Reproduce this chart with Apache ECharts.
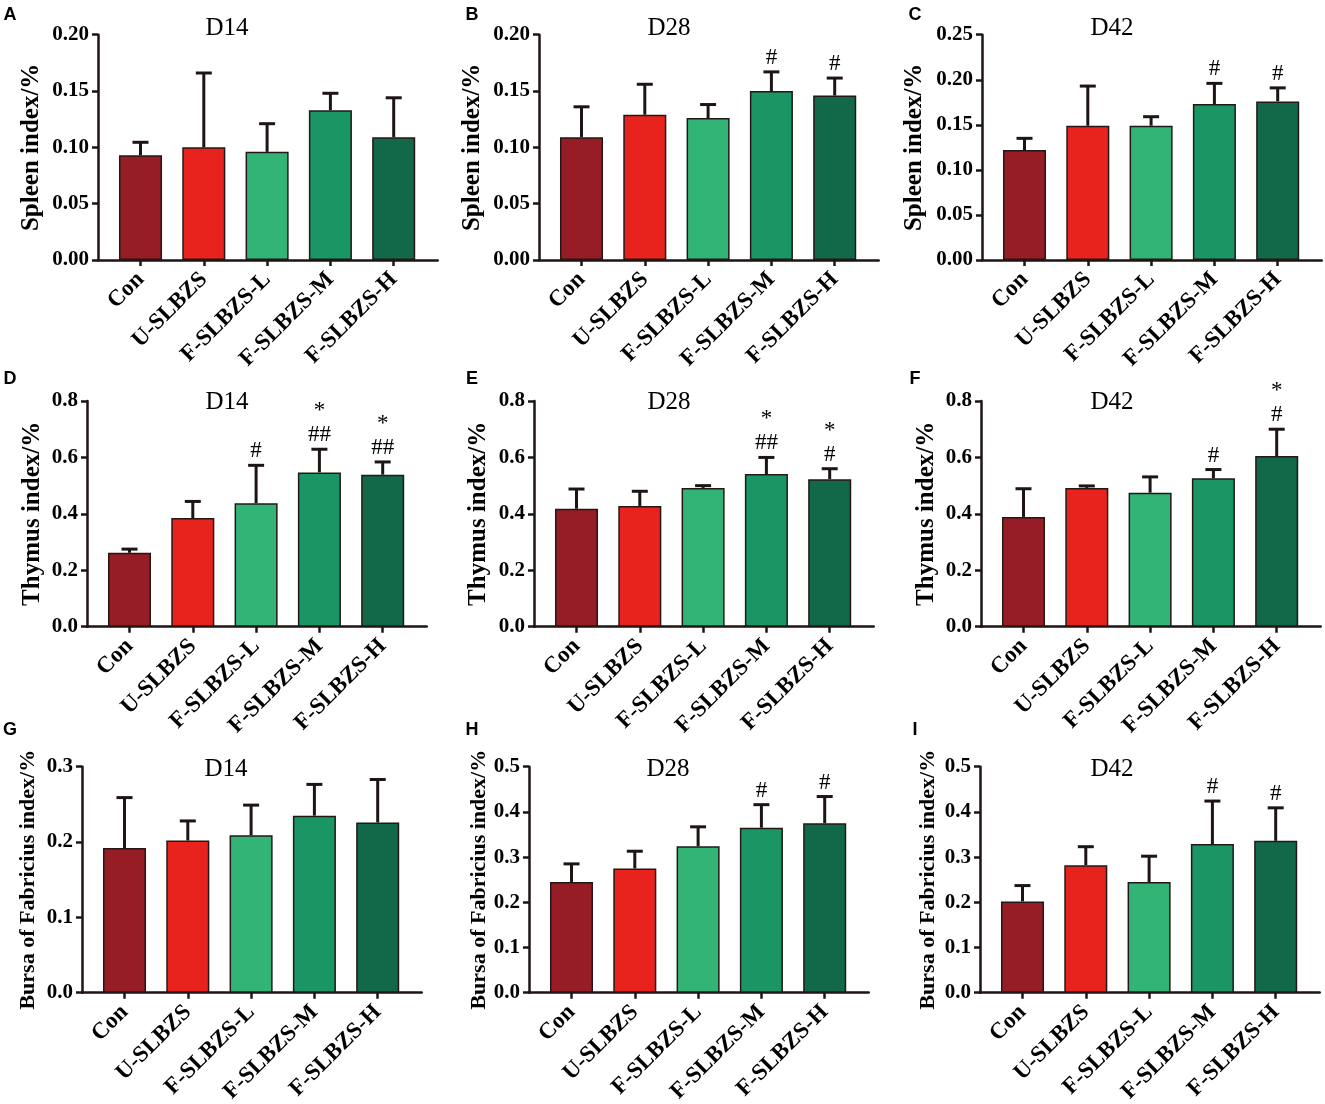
<!DOCTYPE html>
<html>
<head>
<meta charset="utf-8">
<script src="https://cdn.jsdelivr.net/npm/echarts@6/dist/echarts.min.js"></script>
<style>
html,body{margin:0;padding:0;background:#fff;}
#chart{width:1325px;height:1104px;}
</style>
</head>
<body>
<div id="chart"></div>
<script>
// ---------- data ----------
const categories = ['Con', 'U-SLBZS', 'F-SLBZS-L', 'F-SLBZS-M', 'F-SLBZS-H'];

const spleenD14 = [0.093, 0.100, 0.096, 0.133, 0.109];
const spleenD14SD = [0.0115, 0.066, 0.025, 0.015, 0.035];
const spleenD14Sig = ['', '', '', '', ''];

const spleenD28 = [0.109, 0.129, 0.126, 0.150, 0.146];
const spleenD28SD = [0.027, 0.027, 0.012, 0.017, 0.0155];
const spleenD28Sig = ['', '', '', '#', '#'];

const spleenD42 = [0.122, 0.149, 0.149, 0.173, 0.176];
const spleenD42SD = [0.013, 0.044, 0.010, 0.023, 0.015];
const spleenD42Sig = ['', '', '', '#', '#'];

const thymusD14 = [0.262, 0.385, 0.438, 0.547, 0.539];
const thymusD14SD = [0.013, 0.059, 0.134, 0.082, 0.045];
const thymusD14Sig = ['', '', '#', '*\n##', '*\n##'];

const thymusD28 = [0.418, 0.428, 0.492, 0.541, 0.523];
const thymusD28SD = [0.070, 0.052, 0.008, 0.059, 0.037];
const thymusD28Sig = ['', '', '', '*\n##', '*\n#'];

const thymusD42 = [0.389, 0.492, 0.475, 0.526, 0.605];
const thymusD42SD = [0.100, 0.007, 0.056, 0.031, 0.095];
const thymusD42Sig = ['', '', '', '#', '*\n#'];

const bursaD14 = [0.192, 0.202, 0.209, 0.235, 0.226];
const bursaD14SD = [0.067, 0.026, 0.040, 0.0415, 0.057];
const bursaD14Sig = ['', '', '', '', ''];

const bursaD28 = [0.245, 0.275, 0.324, 0.365, 0.375];
const bursaD28SD = [0.040, 0.038, 0.043, 0.051, 0.059];
const bursaD28Sig = ['', '', '', '#', '#'];

const bursaD42 = [0.202, 0.282, 0.245, 0.329, 0.336];
const bursaD42SD = [0.035, 0.041, 0.057, 0.095, 0.073];
const bursaD42Sig = ['', '', '', '#', '#'];

const panelLetters = ['A', 'B', 'C', 'D', 'E', 'F', 'G', 'H', 'I'];
const panelTitles = ['D14', 'D28', 'D42', 'D14', 'D28', 'D42', 'D14', 'D28', 'D42'];
const axisNames = ['Spleen index/%', 'Thymus index/%', 'Bursa of Fabricius index/%'];
const axisMax = [0.20, 0.20, 0.25, 0.8, 0.8, 0.8, 0.3, 0.5, 0.5];
const axisStep = [0.05, 0.05, 0.05, 0.2, 0.2, 0.2, 0.1, 0.1, 0.1];
const axisDecimals = [2, 2, 2, 1, 1, 1, 1, 1, 1];

const means = [spleenD14, spleenD28, spleenD42, thymusD14, thymusD28, thymusD42, bursaD14, bursaD28, bursaD42];
const sds = [spleenD14SD, spleenD28SD, spleenD42SD, thymusD14SD, thymusD28SD, thymusD42SD, bursaD14SD, bursaD28SD, bursaD42SD];
const sigs = [spleenD14Sig, spleenD28Sig, spleenD42Sig, thymusD14Sig, thymusD28Sig, thymusD42Sig, bursaD14Sig, bursaD28Sig, bursaD42Sig];

// ---------- layout & style ----------
const barColors = ['#961d25', '#e8231d', '#31b476', '#1a9665', '#12694a'];
const serif = '"Liberation Serif", "Times New Roman", serif';
const sans = '"Liberation Sans", Arial, sans-serif';
const axisXs = [98, 539, 982, 87, 534, 981, 82, 529, 980];
const rowTop = [34.7, 401, 766.7];
const rowZero = [260, 626.7, 992.7];
const nameGaps = [54, 54, 55, 42, 43, 42, 43, 39, 41];
const titleXs = [227, 669, 1112, 227, 669, 1112, 226, 668, 1112];
const titleYs = [28.5, 402, 769];
const letterXs = [10, 472, 915];
const letterYs = [15, 379, 730];
const outerW = 339.7, innerOff = 10.85, innerW = 316.5;
const ink = '#1e1414';

const option = {
  animation: false,
  backgroundColor: '#fff',
  grid: [], xAxis: [], yAxis: [], series: [], graphic: []
};

for (let k = 0; k < 9; k++) {
  const r = Math.floor(k / 3), c = k % 3;
  const ax = axisXs[k], top = rowTop[r], h = rowZero[r] - top;
  const dec = axisDecimals[k];
  const sig = sigs[k];
  option.grid.push({ left: ax, top: top, width: outerW, height: h, containLabel: false, outerBoundsMode: 'none' });
  option.grid.push({ left: ax + innerOff, top: top, width: innerW, height: h, containLabel: false, outerBoundsMode: 'none' });

  option.xAxis.push({
    type: 'value', gridIndex: 2 * k, min: 0, max: 1,
    axisLine: { show: true, lineStyle: { color: ink, width: 2.5 } },
    axisTick: { show: false }, axisLabel: { show: false }, splitLine: { show: false }
  });
  option.xAxis.push({
    type: 'category', gridIndex: 2 * k + 1, data: categories,
    axisLine: { show: false },
    axisTick: { show: true, alignWithLabel: true, length: 6, lineStyle: { color: ink, width: 2.5 } },
    axisLabel: { interval: 0, rotate: 45, margin: 16, fontFamily: serif, fontWeight: 'bold', fontSize: 23, color: '#000' }
  });
  option.yAxis.push({
    type: 'value', gridIndex: 2 * k, min: 0, max: axisMax[k], interval: axisStep[k],
    name: axisNames[r], nameLocation: 'middle', nameGap: nameGaps[k],
    nameTextStyle: { fontFamily: serif, fontWeight: 'bold', fontSize: r === 2 ? 22 : 25, color: '#000' },
    axisLine: { show: true, lineStyle: { color: ink, width: 2.5 } },
    axisTick: { show: true, length: 6, lineStyle: { color: ink, width: 2.5 } },
    axisLabel: { margin: 9, fontFamily: serif, fontWeight: 'bold', fontSize: 21, color: '#000',
      formatter: v => v.toFixed(dec) },
    splitLine: { show: false }
  });
  option.yAxis.push({ type: 'value', gridIndex: 2 * k + 1, min: 0, max: axisMax[k], show: false });

  option.series.push({
    type: 'bar', xAxisIndex: 2 * k + 1, yAxisIndex: 2 * k + 1, barWidth: '68%',
    itemStyle: { borderColor: '#231815', borderWidth: 1.5 },
    data: means[k].map((v, i) => ({ value: v, itemStyle: { color: barColors[i] } }))
  });
  option.series.push({
    type: 'custom', xAxisIndex: 2 * k + 1, yAxisIndex: 2 * k + 1, z: 5,
    data: means[k].map((v, i) => [i, v, sds[k][i]]),
    renderItem: function (params, api) {
      const i = api.value(0), m = api.value(1), s = api.value(2);
      const b = api.coord([i, m]), t = api.coord([i, m + s]);
      const children = [
        { type: 'line', shape: { x1: b[0], y1: b[1], x2: t[0], y2: t[1] }, style: { stroke: ink, lineWidth: 3 } },
        { type: 'line', shape: { x1: t[0] - 8, y1: t[1], x2: t[0] + 8, y2: t[1] }, style: { stroke: ink, lineWidth: 3 } }
      ];
      const s2 = sig[params.dataIndex];
      if (s2) {
        children.push({ type: 'text', x: t[0], y: t[1] - 2,
          style: { text: s2, align: 'center', verticalAlign: 'bottom', fontFamily: serif, fontSize: 23, lineHeight: 24, fill: '#000' } });
      }
      return { type: 'group', children: children };
    }
  });

  option.graphic.push({ type: 'text', x: titleXs[k], y: titleYs[r],
    style: { text: panelTitles[k], align: 'center', verticalAlign: 'middle', fontFamily: serif, fontSize: 25, fill: '#000' } });
  option.graphic.push({ type: 'text', x: letterXs[c], y: letterYs[r],
    style: { text: panelLetters[k], align: 'center', verticalAlign: 'middle', fontFamily: sans, fontWeight: 'bold', fontSize: 18, fill: '#000' } });
}

const chart = echarts.init(document.getElementById('chart'));
chart.setOption(option);
</script>
</body>
</html>
